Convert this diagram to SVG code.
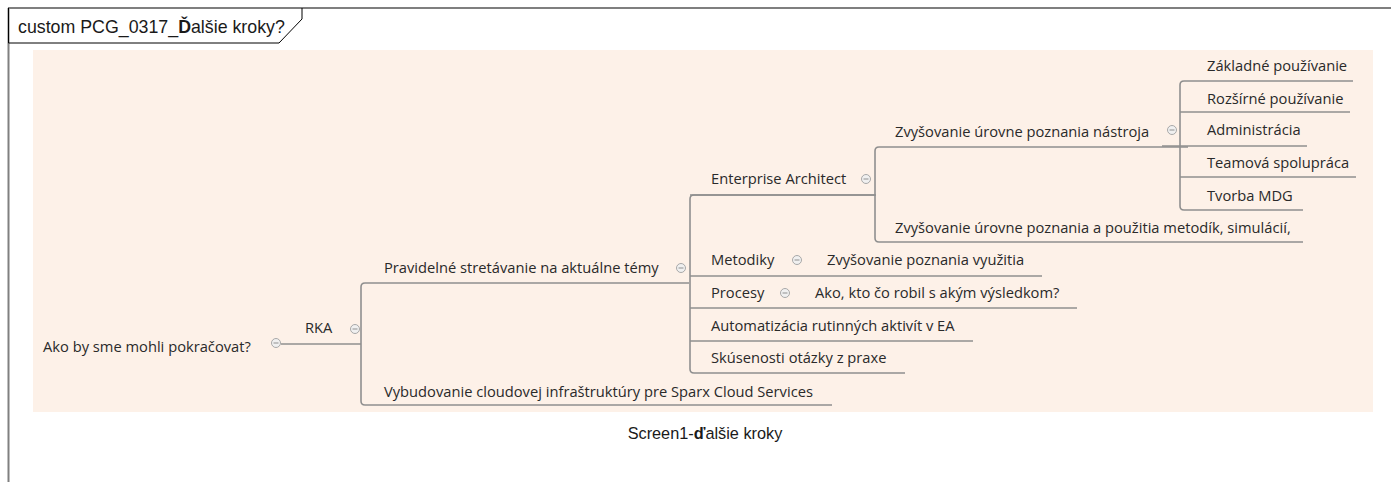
<svg xmlns="http://www.w3.org/2000/svg" width="1391" height="482" viewBox="0 0 1391 482">
<style>
.t{font-family:"Open Sans","Noto Sans",sans-serif;font-size:14.7px;fill:#2a2a2a}
.c{fill:none;stroke:#8f8f8f;stroke-width:1.6;stroke-linejoin:round}
.k{fill:#f0f0f0;stroke:#a8a8a8;stroke-width:1}
.m{stroke:#909090;stroke-width:1}
.h{font-family:"Liberation Sans",Arial,sans-serif;fill:#1a1a1a}
</style>
<defs>
<g id="col"><circle r="4.5" class="k"/><line x1="-2.5" y1="0" x2="2.5" y2="0" class="m"/></g>
</defs>
<rect width="1391" height="482" fill="#ffffff"/>
<g id="frame">
<line x1="8" y1="8" x2="1391" y2="8" stroke="#000" stroke-width="1.2"/>
<line x1="8.5" y1="8" x2="8.5" y2="482" stroke="#808080" stroke-width="2"/>
<path d="M8.5 8 V43 H279 L302 19 V8" fill="none" stroke="#000" stroke-width="1"/>
<text class="h" x="18" y="33" font-size="17.8">custom PCG_0317_<tspan font-weight="bold">Ď</tspan>alšie kroky?</text>
</g>
<rect x="33" y="50" width="1340" height="362" fill="#fdf1e8"/>
<g id="connectors">
<path class="c" d="M281 344 H361"/>
<path class="c" d="M689 283 H365 Q361 283 361 287 V401 Q361 405 365 405 H832"/>
<path class="c" d="M876 195 H694 Q690 195 690 199 V369 Q690 373 694 373 H905"/>
<path class="c" d="M690 276 H1042"/>
<path class="c" d="M690 308 H1077"/>
<path class="c" d="M690 341 H973"/>
<path class="c" d="M1188 147 H879 Q875 147 875 151 V238 Q875 242 879 242 H1303"/>
<path class="c" d="M875 195 H690"/>
<path class="c" d="M1353 81 H1184 Q1180 81 1180 85 V206 Q1180 210 1184 210 H1303"/>
<path class="c" d="M1180 112 H1350"/>
<path class="c" d="M1162 146 H1307"/>
<path class="c" d="M1180 177 H1356"/>
</g>
<g id="n-root"><text class="t" x="43" y="352">Ako by sme mohli pokračovat?</text><use href="#col" x="276" y="343"/></g>
<g id="n-rka"><text class="t" x="305" y="333">RKA</text><use href="#col" x="355" y="329"/></g>
<g id="n-prav"><text class="t" x="384" y="273">Pravidelné stretávanie na aktuálne témy</text><use href="#col" x="681" y="268"/></g>
<g id="n-vyb"><text class="t" x="384" y="397">Vybudovanie cloudovej infraštruktúry pre Sparx Cloud Services</text></g>
<g id="n-ea"><text class="t" x="711" y="184">Enterprise Architect</text><use href="#col" x="866" y="179"/></g>
<g id="n-met"><text class="t" x="711" y="265">Metodiky</text><use href="#col" x="797" y="260"/></g>
<g id="n-met1"><text class="t" x="827" y="265">Zvyšovanie poznania využitia</text></g>
<g id="n-proc"><text class="t" x="711" y="298">Procesy</text><use href="#col" x="785" y="293"/></g>
<g id="n-proc1"><text class="t" x="815" y="298">Ako, kto čo robil s akým výsledkom?</text></g>
<g id="n-auto"><text class="t" x="711" y="331">Automatizácia rutinných aktivít v EA</text></g>
<g id="n-skus"><text class="t" x="711" y="363">Skúsenosti otázky z praxe</text></g>
<g id="n-nas"><text class="t" x="895" y="137">Zvyšovanie úrovne poznania nástroja</text><use href="#col" x="1172" y="130"/></g>
<g id="n-sim"><text class="t" x="895" y="233">Zvyšovanie úrovne poznania a použitia metodík, simulácií,</text></g>
<g id="n-zak"><text class="t" x="1207" y="71">Základné používanie</text></g>
<g id="n-roz"><text class="t" x="1207" y="104">Rozšírné používanie</text></g>
<g id="n-adm"><text class="t" x="1207" y="135">Administrácia</text></g>
<g id="n-team"><text class="t" x="1207" y="168">Teamová spolupráca</text></g>
<g id="n-mdg"><text class="t" x="1207" y="201">Tvorba MDG</text></g>
<text class="h" x="705" y="439" text-anchor="middle" font-size="16.3">Screen1-<tspan font-weight="bold">ď</tspan>alšie kroky</text>
</svg>
